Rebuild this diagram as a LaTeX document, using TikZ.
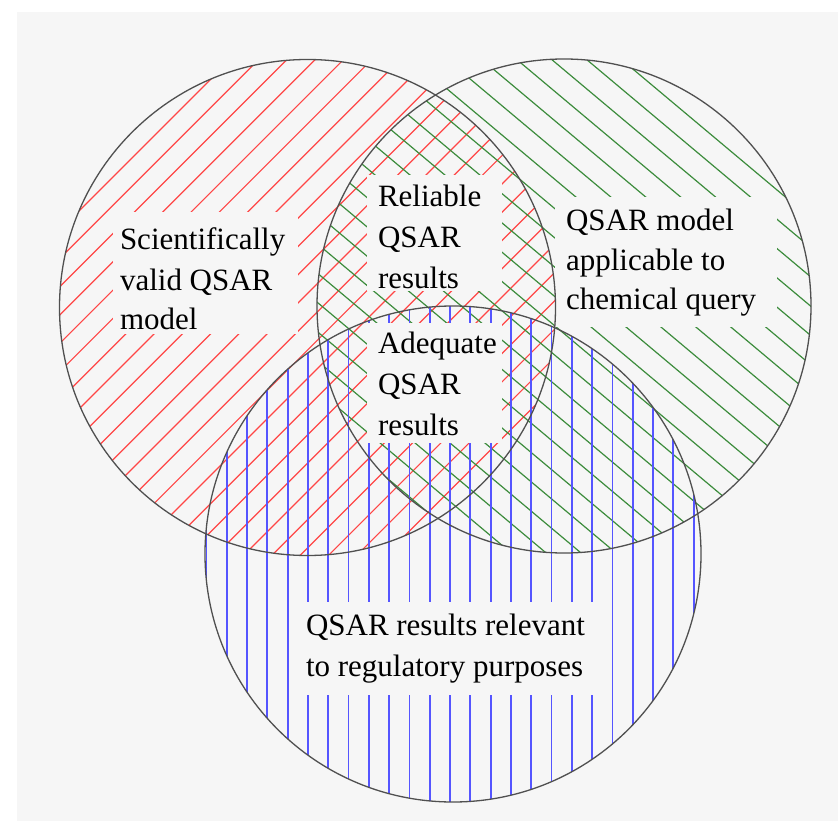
\documentclass[tikz,border=0pt]{standalone}
\usepackage{fontspec}
\setmainfont{Liberation Serif}
\definecolor{bg}{RGB}{246,246,246}
\definecolor{hred}{RGB}{255,70,70}
\definecolor{hgreen}{RGB}{60,140,60}
\definecolor{hblue}{RGB}{85,85,255}
\definecolor{ring}{RGB}{80,80,80}
\newcommand\labfont{\fontsize{31pt}{40pt}\selectfont}
\tikzset{
  redh/.style={draw=hred, line width=1.2pt},
  greenh/.style={draw=hgreen, line width=1.2pt},
  blueh/.style={draw=hblue, line width=1.8pt},
  ringline/.style={draw=ring, line width=1.3pt},
  lab/.style={anchor=north west, inner sep=0pt, outer sep=0pt, fill=bg, text=black}
}
\begin{document}
\begin{tikzpicture}[x=1pt,y=-1pt]
\useasboundingbox (0,0) rectangle (838,821);
\fill[white] (0,0) rectangle (838,821);
\fill[bg] (17,12) rectangle (838,821);
\coordinate (cR) at (307.5,307.5);
\coordinate (cG) at (564,306);
\coordinate (cB) at (453,554);
% red hatch
\begin{scope}
  \clip (cR) circle[radius=248];
  \foreach \k in {0,...,26} {
    \draw[redh] ({261.7+28.28*\k-900},900) -- ({261.7+28.28*\k+100},-100);
  }
\end{scope}
% green hatch
\begin{scope}
  \clip (cG) circle[radius=247];
  \foreach \j in {0,...,23} {
    \draw[greenh] (200,{0.8391*200-491.3+29.3*\j}) -- (900,{0.8391*900-491.3+29.3*\j});
  }
\end{scope}
% blue hatch
\begin{scope}
  \clip (cB) circle[radius=248];
  \foreach \j in {0,...,24} {
    \draw[blueh] ({206.4+20.3*\j},290) -- ({206.4+20.3*\j},820);
  }
\end{scope}
% labels
\node[lab] (sci) at (113,212) {\parbox[t][122pt][t]{185pt}{\labfont\leftskip=7pt\baselineskip=40pt\rule{0pt}{38pt}Scientifically\\valid QSAR\\model}};
\node[lab] (rel) at (367,175) {\parbox[t][116pt][t]{135pt}{\labfont\leftskip=11pt\baselineskip=40.7pt\rule{0pt}{32pt}Reliable\\QSAR\\results}};
\node[lab] (adq) at (367,323) {\parbox[t][120pt][t]{135pt}{\labfont\leftskip=11pt\baselineskip=41pt\rule{0pt}{30pt}Adequate\\QSAR\\results}};
\node[lab] (app) at (555,197) {\parbox[t][130pt][t]{222pt}{\labfont\leftskip=11pt\baselineskip=40pt\rule{0pt}{33pt}QSAR model\\applicable to\\chemical query}};
\node[lab] (reg) at (296,602) {\parbox[t][93pt][t]{307pt}{\labfont\leftskip=10pt\baselineskip=41.7pt\rule{0pt}{33pt}QSAR results relevant\\to regulatory purposes}};
% circle outlines
\draw[ringline] (cR) circle[radius=248];
\draw[ringline] (cG) circle[radius=247];
\draw[ringline] (cB) circle[radius=248];
\end{tikzpicture}
\end{document}
